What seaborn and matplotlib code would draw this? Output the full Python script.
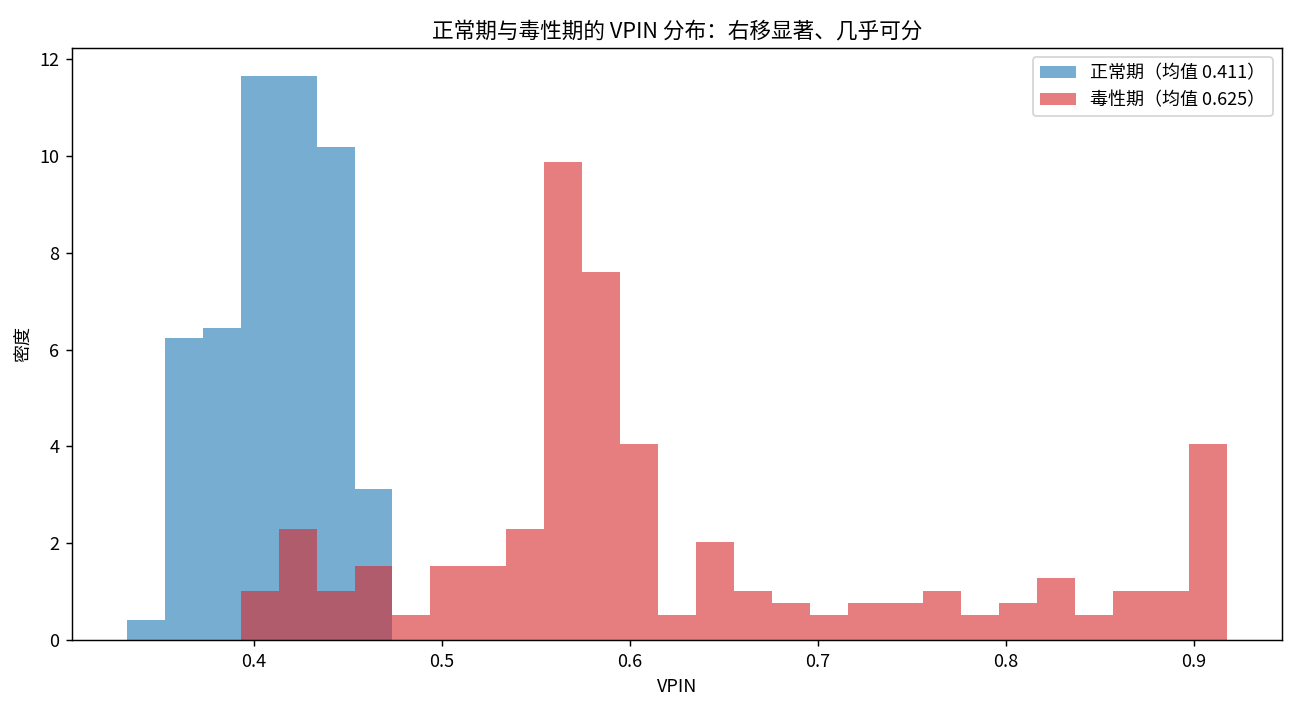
import numpy as np
import pandas as pd
import seaborn as sns
import matplotlib.pyplot as plt

# shared bin edges (29 bins)
bin_start = 0.3327
bin_width = 0.020166
n_bins = 29

# density per bin, normal period (first 7 bins)
normal_density = [0.42, 6.24, 6.45, 11.65, 11.65, 10.19, 3.11]
# density per bin, toxic period (bins 4..29)
toxic_density = [1.01, 2.29, 1.01, 1.53, 0.52, 1.53, 1.53, 2.29, 9.88, 7.60,
                 4.05, 0.52, 2.02, 1.01, 0.76, 0.52, 0.76, 0.76, 1.01, 0.52,
                 0.76, 1.28, 0.52, 1.01, 1.01, 4.05]
toxic_offset = 3

normal_label = '正常期（均值 0.411）'
toxic_label = '毒性期（均值 0.625）'

edges = bin_start + bin_width * np.arange(n_bins + 1)
centers = (edges[:-1] + edges[1:]) / 2

df_n = pd.DataFrame({'vpin': centers[:len(normal_density)], 'w': normal_density})
df_t = pd.DataFrame({'vpin': centers[toxic_offset:toxic_offset + len(toxic_density)],
                     'w': toxic_density})

plt.rcParams['font.family'] = ['Noto Sans CJK SC', 'DejaVu Sans']
plt.rcParams['axes.unicode_minus'] = False

fig, ax = plt.subplots(figsize=(10, 5.5), dpi=130)
sns.histplot(df_n, x='vpin', weights='w', bins=list(edges), stat='count',
             color='tab:blue', alpha=0.6, linewidth=0, label=normal_label, ax=ax)
sns.histplot(df_t, x='vpin', weights='w', bins=list(edges), stat='count',
             color='tab:red', alpha=0.6, linewidth=0, label=toxic_label, ax=ax)

ax.set_title('正常期与毒性期的 VPIN 分布：右移显著、几乎可分', fontsize=12)
ax.set_xlabel('VPIN')
ax.set_ylabel('密度')
ax.set_yticks([0, 2, 4, 6, 8, 10, 12])
ax.legend(loc='upper right')
fig.subplots_adjust(left=0.0554, right=0.986, top=0.933, bottom=0.105)
fig.savefig('out.png')
